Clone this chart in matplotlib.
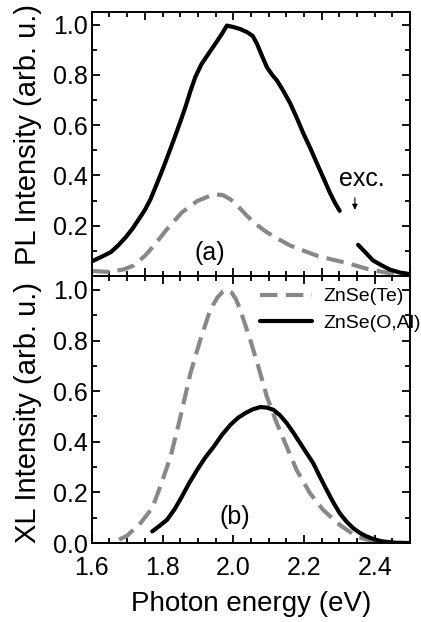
"""PL and XL spectra of ZnSe(Te) and ZnSe(O,Al)."""
import matplotlib
matplotlib.use('Agg')
import matplotlib.pyplot as plt
import matplotlib.ticker as ticker

# ======== Data ========
# (a) PL, ZnSe(O,Al) -- two pieces, gap around the excitation line
pl_oal_e1 = [1.600, 1.606, 1.630, 1.654, 1.675, 1.696, 1.715, 1.733, 1.750, 1.766,
             1.785, 1.804, 1.832, 1.850, 1.865, 1.880, 1.893, 1.910, 1.930, 1.950,
             1.968, 1.982, 2.001, 2.020, 2.039, 2.055, 2.067, 2.080, 2.095, 2.110,
             2.123, 2.140, 2.161, 2.180, 2.198, 2.218, 2.236, 2.255, 2.273, 2.288,
             2.301]
pl_oal_i1 = [0.058, 0.062, 0.078, 0.095, 0.122, 0.154, 0.188, 0.226, 0.262, 0.305,
             0.370, 0.437, 0.542, 0.612, 0.673, 0.740, 0.792, 0.842, 0.884, 0.925,
             0.963, 0.996, 0.990, 0.982, 0.970, 0.955, 0.924, 0.880, 0.831, 0.800,
             0.779, 0.740, 0.687, 0.628, 0.568, 0.508, 0.450, 0.390, 0.332, 0.290,
             0.259]
pl_oal_e2 = [2.353, 2.375, 2.395, 2.420, 2.442, 2.470, 2.497]
pl_oal_i2 = [0.124, 0.092, 0.062, 0.042, 0.026, 0.014, 0.008]

# (a) PL, ZnSe(Te)
pl_te_e = [1.600, 1.650, 1.690, 1.719, 1.750, 1.776, 1.813, 1.855, 1.898, 1.945,
           1.970, 1.992, 2.015, 2.039, 2.065, 2.095, 2.130, 2.161, 2.200, 2.236,
           2.275, 2.311, 2.345, 2.377, 2.415, 2.452, 2.497]
pl_te_i = [0.020, 0.016, 0.026, 0.042, 0.080, 0.121, 0.187, 0.253, 0.298, 0.325,
           0.322, 0.305, 0.275, 0.239, 0.205, 0.174, 0.145, 0.121, 0.100, 0.081,
           0.067, 0.055, 0.042, 0.029, 0.018, 0.009, 0.005]

# (b) XL, ZnSe(Te)
xl_te_e = [1.677, 1.700, 1.738, 1.771, 1.794, 1.823, 1.851, 1.879, 1.907, 1.935,
           1.955, 1.970, 1.982, 1.995, 2.007, 2.020, 2.048, 2.071, 2.095, 2.123,
           2.151, 2.179, 2.217, 2.254, 2.301, 2.348, 2.395, 2.430]
xl_te_i = [0.013, 0.029, 0.079, 0.138, 0.224, 0.342, 0.500, 0.671, 0.803, 0.921,
           0.970, 0.992, 1.000, 0.990, 0.965, 0.921, 0.803, 0.697, 0.579, 0.474,
           0.381, 0.289, 0.197, 0.131, 0.072, 0.026, 0.006, 0.000]

# (b) XL, ZnSe(O,Al)
xl_oal_e = [1.771, 1.790, 1.813, 1.835, 1.855, 1.876, 1.898, 1.920, 1.945, 1.968,
            1.992, 2.013, 2.034, 2.055, 2.076, 2.095, 2.114, 2.132, 2.151, 2.170,
            2.189, 2.207, 2.226, 2.245, 2.264, 2.283, 2.301, 2.320, 2.339, 2.358,
            2.377, 2.400, 2.423, 2.460, 2.497]
xl_oal_i = [0.046, 0.066, 0.092, 0.135, 0.184, 0.238, 0.289, 0.336, 0.381, 0.427,
            0.467, 0.494, 0.513, 0.528, 0.537, 0.535, 0.526, 0.505, 0.474, 0.436,
            0.395, 0.356, 0.316, 0.262, 0.210, 0.160, 0.118, 0.085, 0.059, 0.040,
            0.026, 0.014, 0.006, 0.001, 0.000]

# ======== Style ========
plt.rcParams.update({
    'font.family': ['Liberation Sans', 'DejaVu Sans'], 'font.size': 18,
    'axes.linewidth': 1.4,
})
gray = '#888888'
dash = (0, (4.2, 2.0))

fig = plt.figure(figsize=(4.21, 6.22), dpi=100)
ax1 = fig.add_axes([0.218, 0.5563, 0.756, 0.4244])
ax2 = fig.add_axes([0.218, 0.127, 0.756, 0.4293])

# ======== (a) PL ========
ax1.plot(pl_te_e, pl_te_i, color=gray, lw=3.0, ls=dash)
ax1.plot(pl_oal_e1, pl_oal_i1, color='black', lw=3.0, solid_capstyle='round')
ax1.plot(pl_oal_e2, pl_oal_i2, color='black', lw=3.0, solid_capstyle='round')
ax1.annotate('', xy=(2.344, 0.252), xytext=(2.344, 0.322),
             arrowprops=dict(arrowstyle='-|>', color='black', lw=0.8,
                             mutation_scale=8))
ax1.text(2.365, 0.385, 'exc.', ha='center', va='center', fontsize=18)
ax1.text(1.935, 0.093, '(a)', ha='center', va='center', fontsize=18)
ax1.set_xlim(1.6, 2.5)
ax1.set_ylim(0.0, 1.05)
ax1.set_yticks([0.2, 0.4, 0.6, 0.8, 1.0])
ax1.set_ylabel('PL Intensity (arb. u.)', fontsize=21)
ax1.yaxis.set_label_coords(-0.155, 0.535)
ax1.tick_params(labelbottom=False)

# ======== (b) XL ========
ax2.plot(xl_te_e, xl_te_i, color=gray, lw=3.0, ls=dash, label='ZnSe(Te)')
ax2.plot(xl_oal_e, xl_oal_i, color='black', lw=3.0, label='ZnSe(O,Al)',
         solid_capstyle='round')
ax2.text(2.005, 0.103, '(b)', ha='center', va='center', fontsize=18)
ax2.set_xlim(1.6, 2.5)
ax2.set_ylim(0.0, 1.055)
ax2.set_yticks([0.0, 0.2, 0.4, 0.6, 0.8, 1.0])
ax2.set_xticks([1.6, 1.8, 2.0, 2.2, 2.4])
ax2.set_xlabel('Photon energy (eV)', fontsize=20, labelpad=8)
ax2.set_ylabel('XL Intensity (arb. u.)', fontsize=21)
ax2.yaxis.set_label_coords(-0.155, 0.49)
ax2.legend(loc='upper right', bbox_to_anchor=(1.06, 0.985), frameon=False,
           fontsize=14, handlelength=2.7, handletextpad=0.6, labelspacing=0.45,
           borderaxespad=0.0)

for ax in (ax1, ax2):
    ax.yaxis.set_major_formatter(ticker.FormatStrFormatter('%.1f'))
    ax.xaxis.set_major_formatter(ticker.FormatStrFormatter('%.1f'))
    ax.xaxis.set_minor_locator(ticker.MultipleLocator(0.05))
    ax.yaxis.set_minor_locator(ticker.MultipleLocator(0.1))
    ax.tick_params(which='both', direction='in', top=True, right=True, width=1.3)
    ax.tick_params(which='major', length=6, pad=3)
    ax.tick_params(which='minor', length=3.5)
ax2.tick_params(axis='x', which='major', pad=9)

fig.savefig('out.png', dpi=100)
